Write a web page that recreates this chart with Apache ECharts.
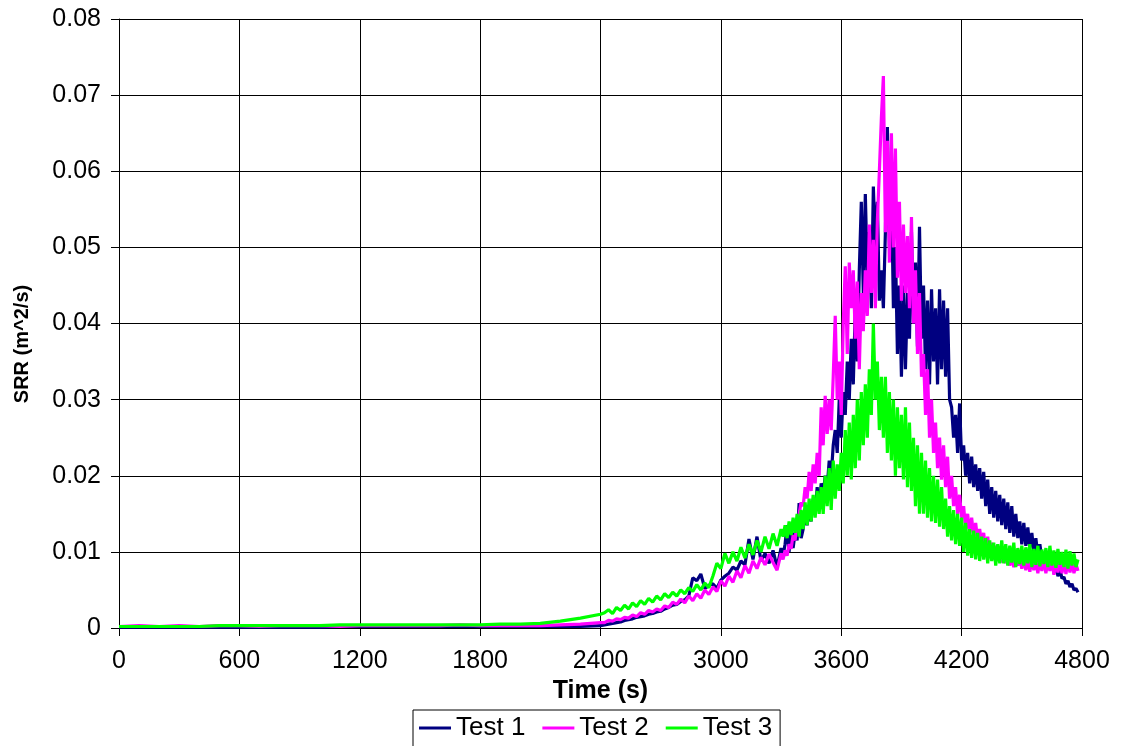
<!DOCTYPE html>
<html>
<head>
<meta charset="utf-8">
<script src="https://cdn.jsdelivr.net/npm/echarts@6/dist/echarts.min.js"></script>
<style>
html,body{margin:0;padding:0;background:#fff;}
#chart{width:1122px;height:746px;}
</style>
</head>
<body>
<div id="chart"></div>
<script>
// Sample times (s): 0..2400 every 100, 2420..3300 every 20, 3310..4780 every 10
const timeSegments = [[0, 2400, 100], [2420, 3300, 20], [3310, 4780, 10]];
const xTicks = ["0","600","1200","1800","2400","3000","3600","4200","4800"];
const yTicks = ["0","0.01","0.02","0.03","0.04","0.05","0.06","0.07","0.08"];
const seriesNames = ["Test 1", "Test 2", "Test 3"];

const test1 = [
// 0..2400 step 100
0.0001,0.0001,0.0001,0.0001,0.0001,0.0001,0.0001,0.0001,0.0001,0.0001,0.0001,0.0002,0.0002,0.0002,0.0002,0.0002,0.0002,0.0002,0.0002,0.0002,0.0002,0.0002,0.0002,0.0002,0.0003,
// 2420..3300 step 20
0.0004,0.0005,0.0006,0.0007,0.0008,0.0010,0.0011,0.0012,0.0014,0.0015,0.0016,0.0018,0.0019,0.0021,0.0022,0.0025,0.0027,0.0030,0.0031,0.0035,0.0037,0.0042,0.0066,0.0062,0.0071,0.0052,0.0056,0.0058,0.0052,0.0063,0.0068,0.0072,0.0080,0.0076,0.0088,0.0083,0.0117,0.0090,0.0120,0.0088,0.0098,0.0085,0.0102,0.0080,0.0105,
// 3310..4780 step 10
0.0095,0.0110,0.0135,0.0100,0.0138,0.0105,0.0125,0.0115,0.0164,0.0118,
0.0130,0.0150,0.0135,0.0160,0.0140,0.0170,0.0150,0.0185,0.0160,0.0190,
0.0175,0.0200,0.0185,0.0220,0.0200,0.0240,0.0260,0.0230,0.0300,0.0250,
0.0310,0.0280,0.0350,0.0300,0.0380,0.0320,0.0420,0.0350,0.0470,0.0560,
0.0440,0.0570,0.0460,0.0520,0.0420,0.0580,0.0500,0.0560,0.0430,0.0470,
0.0420,0.0520,0.0658,0.0500,0.0580,0.0420,0.0500,0.0360,0.0450,0.0330,
0.0450,0.0340,0.0440,0.0380,0.0520,0.0400,0.0480,0.0370,0.0527,0.0380,
0.0450,0.0340,0.0430,0.0320,0.0445,0.0350,0.0420,0.0320,0.0445,0.0340,
0.0430,0.0330,0.0420,0.0300,0.0290,0.0250,0.0280,0.0230,0.0295,0.0220,
0.0240,0.0200,0.0230,0.0190,0.0225,0.0185,0.0215,0.0180,0.0210,0.0170,
0.0205,0.0160,0.0195,0.0150,0.0185,0.0145,0.0180,0.0140,0.0175,0.0135,
0.0170,0.0130,0.0165,0.0125,0.0160,0.0120,0.0150,0.0118,0.0140,0.0110,
0.0138,0.0108,0.0132,0.0105,0.0125,0.0100,0.0118,0.0095,0.0110,0.0090,
0.0100,0.0082,0.0095,0.0078,0.0090,0.0072,0.0085,0.0068,0.0078,0.0065,
0.0067,0.0058,0.0062,0.0054,0.0058,0.0050,0.0052,0.0047
];

const test2 = [
0.0002,0.0003,0.0002,0.0003,0.0002,0.0003,0.0003,0.0002,0.0003,0.0003,0.0003,0.0002,0.0003,0.0003,0.0003,0.0003,0.0003,0.0004,0.0003,0.0003,0.0003,0.0003,0.0004,0.0005,0.0007,
0.0007,0.0010,0.0009,0.0012,0.0011,0.0014,0.0013,0.0017,0.0015,0.0020,0.0018,0.0023,0.0021,0.0025,0.0023,0.0029,0.0027,0.0034,0.0031,0.0038,0.0033,0.0042,0.0036,0.0045,0.0039,0.0050,0.0044,0.0054,0.0048,0.0062,0.0055,0.0068,0.0060,0.0075,0.0066,0.0082,0.0072,0.0088,0.0078,0.0093,0.0083,0.0097,0.0086,0.0076,0.0098,
0.0090,0.0102,0.0095,0.0110,0.0104,0.0122,0.0115,0.0140,0.0150,0.0165,
0.0160,0.0185,0.0170,0.0205,0.0180,0.0215,0.0190,0.0230,0.0200,0.0290,
0.0240,0.0305,0.0255,0.0300,0.0260,0.0330,0.0410,0.0300,0.0350,0.0280,
0.0400,0.0475,0.0360,0.0480,0.0420,0.0470,0.0380,0.0455,0.0340,0.0440,
0.0390,0.0470,0.0410,0.0530,0.0440,0.0510,0.0420,0.0535,0.0600,0.0670,
0.0725,0.0520,0.0640,0.0480,0.0650,0.0500,0.0630,0.0460,0.0560,0.0430,
0.0530,0.0440,0.0515,0.0420,0.0540,0.0400,0.0470,0.0360,0.0440,0.0330,
0.0360,0.0280,0.0340,0.0250,0.0300,0.0230,0.0270,0.0210,0.0250,0.0195,
0.0240,0.0185,0.0225,0.0170,0.0200,0.0160,0.0185,0.0150,0.0175,0.0145,
0.0160,0.0130,0.0150,0.0125,0.0145,0.0120,0.0138,0.0115,0.0130,0.0110,
0.0125,0.0100,0.0120,0.0095,0.0112,0.0090,0.0108,0.0088,0.0105,0.0086,
0.0100,0.0085,0.0098,0.0082,0.0095,0.0080,0.0094,0.0082,0.0092,0.0078,
0.0092,0.0076,0.0090,0.0074,0.0091,0.0076,0.0088,0.0072,0.0090,0.0075,
0.0092,0.0072,0.0088,0.0075,0.0090,0.0070,0.0087,0.0073,0.0089,0.0072,
0.0088,0.0071,0.0090,0.0073,0.0086,0.0072,0.0084,0.0075
];

const test3 = [
0.0002,0.0002,0.0002,0.0002,0.0002,0.0003,0.0003,0.0003,0.0003,0.0003,0.0003,0.0004,0.0004,0.0004,0.0004,0.0004,0.0004,0.0004,0.0004,0.0005,0.0005,0.0006,0.0009,0.0013,0.0018,
0.0020,0.0024,0.0019,0.0027,0.0023,0.0030,0.0025,0.0033,0.0028,0.0036,0.0031,0.0039,0.0034,0.0042,0.0037,0.0045,0.0040,0.0047,0.0042,0.0050,0.0045,0.0053,0.0048,0.0057,0.0050,0.0059,0.0053,0.0068,0.0085,0.0078,0.0098,0.0085,0.0100,0.0088,0.0106,0.0092,0.0110,0.0096,0.0115,0.0100,0.0120,0.0104,0.0124,0.0108,0.0130,
0.0120,0.0135,0.0118,0.0140,0.0122,0.0145,0.0125,0.0150,0.0120,0.0155,
0.0130,0.0165,0.0135,0.0170,0.0140,0.0175,0.0145,0.0180,0.0150,0.0185,
0.0150,0.0200,0.0160,0.0210,0.0155,0.0220,0.0170,0.0215,0.0180,0.0230,
0.0190,0.0260,0.0200,0.0270,0.0195,0.0280,0.0210,0.0300,0.0220,0.0310,
0.0240,0.0320,0.0250,0.0340,0.0280,0.0400,0.0300,0.0350,0.0260,0.0330,
0.0250,0.0330,0.0230,0.0310,0.0220,0.0300,0.0200,0.0290,0.0210,0.0280,
0.0195,0.0290,0.0185,0.0270,0.0180,0.0250,0.0160,0.0240,0.0150,0.0230,
0.0150,0.0220,0.0145,0.0210,0.0140,0.0200,0.0138,0.0195,0.0133,0.0185,
0.0130,0.0170,0.0120,0.0160,0.0115,0.0155,0.0110,0.0150,0.0108,0.0145,
0.0100,0.0138,0.0095,0.0130,0.0092,0.0128,0.0090,0.0125,0.0088,0.0120,
0.0090,0.0118,0.0085,0.0115,0.0088,0.0112,0.0082,0.0110,0.0085,0.0115,
0.0085,0.0110,0.0082,0.0108,0.0086,0.0112,0.0080,0.0105,0.0084,0.0108,
0.0082,0.0106,0.0085,0.0110,0.0080,0.0104,0.0083,0.0108,0.0081,0.0103,
0.0084,0.0105,0.0080,0.0108,0.0082,0.0102,0.0079,0.0104,0.0083,0.0100,
0.0080,0.0103,0.0078,0.0101,0.0082,0.0098,0.0080,0.0090
];

const times = [];
timeSegments.forEach(([a, b, s]) => { for (let t = a; t <= b; t += s) times.push(t); });

function pairs(vals) { return vals.map((v, i) => [times[i], v]); }

const colors = ["#000080", "#FF00FF", "#00FF00"];
const chart = echarts.init(document.getElementById('chart'), null, {renderer: 'canvas'});
const font = '"Liberation Sans", Arial, sans-serif';

chart.setOption({
  animation: false,
  backgroundColor: '#fff',
  textStyle: {fontFamily: font},
  grid: {left: 119, right: 40, top: 19, bottom: 118, containLabel: false},
  xAxis: {
    type: 'value', min: 0, max: 4800, interval: 600,
    name: 'Time (s)', nameLocation: 'middle', nameGap: 47,
    nameTextStyle: {fontSize: 25, fontWeight: 'bold', color: '#000', fontFamily: font},
    axisLine: {show: true, onZero: false, lineStyle: {color: '#000', width: 1}},
    axisTick: {show: true, length: 8, lineStyle: {color: '#000'}},
    axisLabel: {fontSize: 25, color: '#000', margin: 21, fontFamily: font,
      formatter: v => xTicks[Math.round(v / 600)]},
    splitLine: {show: true, lineStyle: {color: '#000', width: 1}}
  },
  yAxis: {
    type: 'value', min: 0, max: 0.08, interval: 0.01,
    axisLine: {show: true, lineStyle: {color: '#000', width: 1}},
    axisTick: {show: true, length: 8, lineStyle: {color: '#000'}},
    axisLabel: {fontSize: 25, color: '#000', margin: 18, fontFamily: font,
      formatter: v => yTicks[Math.round(v / 0.01)]},
    splitLine: {show: true, lineStyle: {color: '#000', width: 1}}
  },
  graphic: [{
    type: 'text', x: 22, y: 344, rotation: Math.PI / 2,
    style: {text: 'SRR (m^2/s)', font: 'bold 20px ' + font, fill: '#000',
      textAlign: 'center', textVerticalAlign: 'middle'}
  }],
  legend: {
    show: true, left: 413, top: 710,
    orient: 'horizontal',
    borderColor: '#000', borderWidth: 1,
    padding: [5, 8, 10, 6],
    itemGap: 17, itemWidth: 32, itemHeight: 3, icon: 'rect',
    textStyle: {fontSize: 26, color: '#000', fontFamily: font},
    data: seriesNames
  },
  series: seriesNames.map((n, i) => ({
    name: n, type: 'line', showSymbol: false, symbol: 'none',
    data: pairs([test1, test2, test3][i]),
    lineStyle: {color: colors[i], width: 3.2},
    itemStyle: {color: colors[i]},
    sampling: null, smooth: false
  }))
});
</script>
</body>
</html>
